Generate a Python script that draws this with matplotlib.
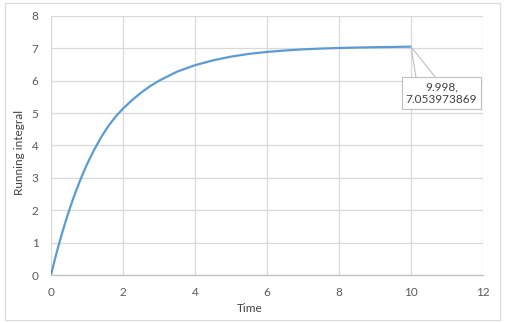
import matplotlib
matplotlib.use("Agg")
import matplotlib.pyplot as plt
from matplotlib.patches import Rectangle


# values
time = [0, 0.1, 0.2, 0.3, 0.4, 0.5, 0.6, 0.7, 0.8, 0.9, 1.0,
        1.2, 1.4, 1.6, 1.8, 2.0, 2.25, 2.5, 2.75, 3.0, 3.5,
        4.0, 4.5, 5.0, 5.5, 6.0, 6.5, 7.0, 7.5, 8.0, 8.5,
        9.0, 9.5, 9.998]
running = [0, 0.45, 0.87, 1.265, 1.635, 1.98, 2.305, 2.61, 2.895, 3.165, 3.42,
           3.87, 4.27, 4.61, 4.90, 5.14, 5.40, 5.63, 5.83, 6.0, 6.28,
           6.48, 6.63, 6.745, 6.83, 6.89, 6.935, 6.97, 6.994, 7.012, 7.026,
           7.036, 7.044, 7.053973869]

x_ticks = [0, 2, 4, 6, 8, 10, 12]
y_ticks = [0, 1, 2, 3, 4, 5, 6, 7, 8]

LINE = "#5b9bd5"
GRID = "#d9d9d9"
TEXT = "#595959"

plt.rcParams["font.family"] = ["Lato", "DejaVu Sans"]

fig = plt.figure(figsize=(5.07, 3.23), dpi=100)
ax = fig.add_axes([51 / 507, 1 - 275 / 323, 432 / 507, 259 / 323])

# --------------------------------------------------
# grid / axes
# --------------------------------------------------

ax.set_xlim(0, 12)
ax.set_ylim(0, 8)
ax.set_xticks(x_ticks)
ax.set_yticks(y_ticks)
ax.grid(True, color=GRID, lw=0.9)
ax.set_axisbelow(True)

for side in ["top", "right", "left"]:
    ax.spines[side].set_visible(False)
ax.spines["bottom"].set_color("#bfbfbf")
ax.spines["bottom"].set_linewidth(0.9)

ax.tick_params(length=0, labelsize=8.5, labelcolor=TEXT)
ax.tick_params(axis="x", pad=9)
ax.tick_params(axis="y", pad=9)

ax.set_xlabel("Time", fontsize=8.5, color="#404040")
ax.set_ylabel("Running integral", fontsize=8.5, color="#404040")
ax.xaxis.set_label_coords(0.46, -0.108)
ax.yaxis.set_label_coords(-0.060, 0.475)

# --------------------------------------------------
# curve
# --------------------------------------------------

ax.plot(time, running, color=LINE, lw=1.6, solid_capstyle="round")

# --------------------------------------------------
# callout on last point
# --------------------------------------------------

px, py = time[-1], running[-1]

for dx in (5, 24):
    ax.annotate(
        "",
        xy=(px, py),
        xytext=(dx, -30),
        textcoords="offset pixels",
        arrowprops=dict(arrowstyle="-", color="#bfbfbf", lw=0.8,
                        shrinkA=0, shrinkB=0),
        annotation_clip=False,
    )

ax.annotate(
    f"{px},\n{py}",
    xy=(px, py),
    xytext=(30.5, -46.5),
    textcoords="offset pixels",
    ha="center",
    va="center",
    fontsize=8.5,
    color="#404040",
    linespacing=1.25,
    bbox=dict(boxstyle="square,pad=0.35", fc="white", ec="#bfbfbf", lw=0.8),
    annotation_clip=False,
    zorder=5,
)

# chart border
fig.patches.append(
    Rectangle((5 / 507, 3 / 323), 495 / 507, 317 / 323,
              transform=fig.transFigure, fill=False,
              ec="#d9d9d9", lw=0.8)
)

fig.savefig("out.png", dpi=100)
